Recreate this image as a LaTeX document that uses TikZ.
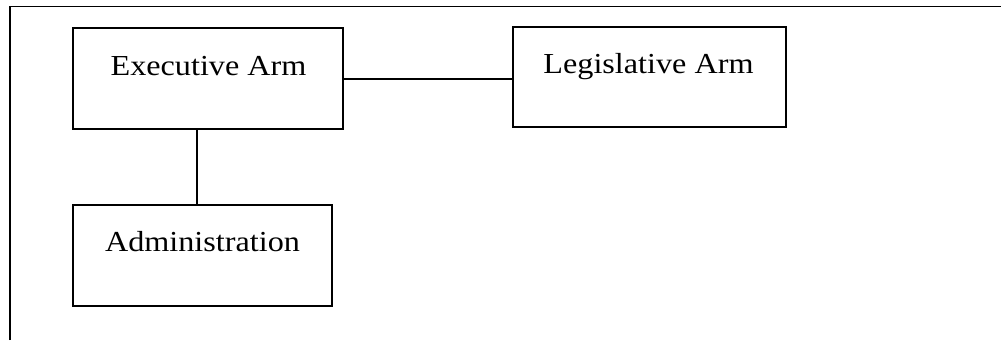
\documentclass[tikz,border=0pt]{standalone}
\usepackage{fontspec}
\setmainfont{Liberation Serif}
\newcommand{\wtxt}[1]{\scalebox{1.11}[1]{#1}}
\begin{document}
\begin{tikzpicture}[x=1pt,y=-1pt,
  box/.style={draw=black, line width=2pt, rectangle, inner sep=0pt},
  lbl/.style={font=\fontsize{29}{33}\selectfont, inner sep=0pt, anchor=base},
  link/.style={draw=black, line width=2pt}]
\useasboundingbox (0,0) rectangle (1001,340);
% outer frame
\draw[line width=1.6pt] (10,340) -- (10,6.5) -- (1001,6.5);
% boxes
\node[box, minimum width=270pt, minimum height=101pt] (exec) at (208,78.5) {};
\node[box, minimum width=273pt, minimum height=100pt] (leg) at (649.5,77) {};
\node[box, minimum width=259pt, minimum height=101pt] (admin) at (202,255.5) {};
% labels
\node[lbl] (tE) at (208.5,75) {\wtxt{Executive Arm}};
\node[lbl] (tL) at (648.5,73) {\wtxt{Legislative Arm}};
\node[lbl] (tA) at (202.5,251) {\wtxt{Administration}};
% connectors
\coordinate (hy) at (0,79.3);
\coordinate (vx) at (197,0);
\draw[link] (exec.east |- hy) -- (leg.west |- hy);
\draw[link] (exec.south -| vx) -- (admin.north -| vx);
\end{tikzpicture}
\end{document}
